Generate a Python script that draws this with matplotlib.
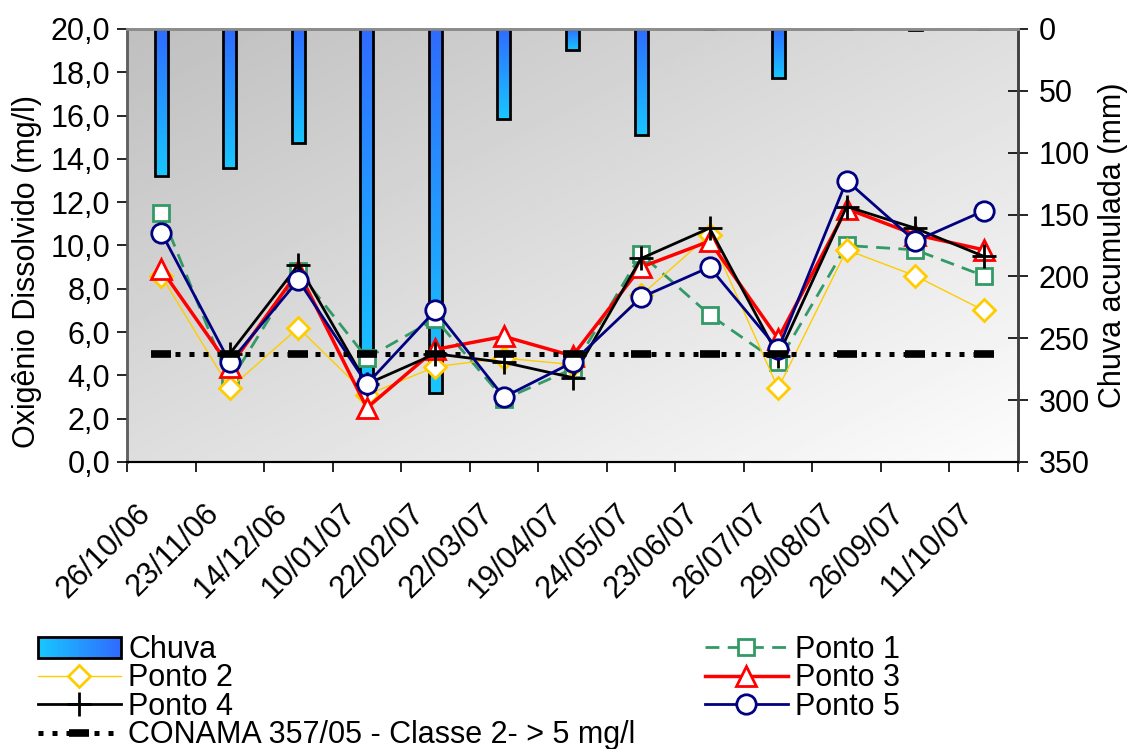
import numpy as np
import matplotlib
matplotlib.use('Agg')
import matplotlib.pyplot as plt
from matplotlib.colors import LinearSegmentedColormap
from matplotlib.lines import Line2D
from matplotlib.patches import Patch, Rectangle
from matplotlib.legend_handler import HandlerBase
from matplotlib.ticker import FuncFormatter, FixedLocator
from matplotlib.transforms import ScaledTranslation

plt.rcParams['font.family'] = ['Liberation Sans', 'DejaVu Sans']

datas = ['26/10/06', '23/11/06', '14/12/06', '10/01/07', '22/02/07', '22/03/07', '19/04/07',
         '24/05/07', '23/06/07', '26/07/07', '29/08/07', '26/09/07', '11/10/07']
chuva = [119, 112, 92, 285, 294, 73, 17, 86, 0, 40, 0, 1, 0]
ponto1 = [11.5, 3.7, 8.8, 4.8, 6.6, 2.9, 4.3, 9.6, 6.8, 4.6, 10.0, 9.8, 8.6]
ponto2 = [8.6, 3.4, 6.2, 3.1, 4.4, 4.8, 4.5, 7.7, 10.5, 3.4, 9.8, 8.6, 7.0]
ponto3 = [8.9, 4.4, 8.8, 2.5, 5.2, 5.8, 4.9, 9.0, 10.2, 5.7, 11.7, 10.5, 9.8]
ponto4 = [np.nan, 5.0, 9.1, 3.6, 5.0, 4.6, 3.9, 9.4, 10.8, 4.9, 11.8, 10.8, 9.5]
ponto5 = [10.6, 4.6, 8.4, 3.6, 7.0, 3.0, 4.6, 7.6, 9.0, 5.2, 13.0, 10.2, 11.6]
conama = [5.0] * len(datas)

FS = 22
x = np.arange(len(datas))
cm_bar = LinearSegmentedColormap.from_list('chuva', ['#2f6cff', '#18c6ff'])


class GradHandler(HandlerBase):
    # legend box for the rain bars, cyan -> blue from left to right
    def create_artists(self, legend, orig, xdescent, ydescent, width, height, fontsize, trans):
        arts = []
        n = 30
        for i in range(n):
            arts.append(Rectangle((-xdescent + width * i / n, -ydescent), width / n * 1.1, height,
                                  facecolor=cm_bar(1 - i / (n - 1)), edgecolor='none', transform=trans))
        arts.append(Rectangle((-xdescent, -ydescent), width, height, facecolor='none',
                              edgecolor='black', lw=2, transform=trans))
        return arts


fig = plt.figure(figsize=(11.31, 7.49), dpi=100)
ax = fig.add_axes([127 / 1131, 1 - 462 / 749, (1018 - 127) / 1131, (462 - 29) / 749])
ax2 = ax.twinx()
ax.set_zorder(2)
ax2.set_zorder(1)
ax.patch.set_visible(False)

# gray diagonal background
u = np.linspace(0, 1, 200)
uu, vv = np.meshgrid(u, u)
bg = 0.75 + 0.24 * (uu + vv) / 2
ax2.imshow(bg, extent=[0, 1, 0, 1], transform=ax2.transAxes, cmap='gray', vmin=0, vmax=1,
           aspect='auto', origin='upper', zorder=0, interpolation='bilinear')

# rain bars with vertical gradient
grad = np.linspace(0, 1, 100).reshape(-1, 1)
bars = ax2.bar(x, chuva, width=0.19, facecolor='none', edgecolor='black', linewidth=2, zorder=3)
for b, h in zip(bars, chuva):
    if h <= 0:
        continue
    x0 = b.get_x()
    im = ax2.imshow(grad, extent=[x0, x0 + b.get_width(), h, 0], origin='upper', cmap=cm_bar,
                    aspect='auto', zorder=2, interpolation='bilinear')
    im.set_clip_path(b)

ax2.set_ylim(350, 0)
ax2.set_yticks(np.arange(0, 351, 50))
ax2.set_ylabel('Chuva acumulada (mm)', fontsize=FS, labelpad=6)
ax2.tick_params(axis='y', labelsize=FS, direction='inout', length=14, width=1.2, pad=8)

# oxygen lines
ax.plot(x, ponto1, color='#339966', lw=2, ls=(0, (5, 3)), marker='s', ms=12, mfc='white',
        mec='#339966', mew=2, zorder=3)
ax.plot(x, ponto2, color='#ffcc00', lw=1, marker='D', ms=11, mfc='white',
        mec='#ffcc00', mew=2, zorder=3)
ax.plot(x, ponto3, color='red', lw=2.5, marker='^', ms=14, mfc='white',
        mec='red', mew=2, zorder=4)
ax.plot(x, ponto4, color='black', lw=2, marker='+', ms=17, mew=2, zorder=5)
ax.plot(x, ponto5, color='#000080', lw=2, marker='o', ms=14, mfc='white',
        mec='#000080', mew=2, zorder=6)
ax.plot(x, conama, color='black', lw=3.6, ls=(0, (1, 1.8)), marker='_', ms=15, mew=5.5, zorder=7)

ax.set_xlim(-0.5, len(datas) - 0.5)
ax.set_ylim(0, 20)
ax.set_yticks(np.arange(0, 20.1, 2))
ax.yaxis.set_major_formatter(FuncFormatter(lambda v, p: f'{v:.1f}'.replace('.', ',')))
ax.set_ylabel('Oxigênio Dissolvido (mg/l)', fontsize=FS)
ax.yaxis.set_label_coords(-0.095, 0.44)
ax.tick_params(axis='y', labelsize=FS, direction='out', length=7, width=1.2, pad=5)

ax.xaxis.set_major_locator(FixedLocator(np.arange(-0.5, len(datas), 1)))
ax.xaxis.set_minor_locator(FixedLocator(x))
ax.set_xticklabels([], minor=False)
ax.set_xticklabels(datas, minor=True, rotation=45, ha='right', rotation_mode='anchor', fontsize=FS)
ax.tick_params(axis='x', which='major', direction='out', length=7, width=1.2)
ax.tick_params(axis='x', which='minor', length=0, pad=24)
shift = ScaledTranslation(-0.26, -0.03, fig.dpi_scale_trans)
for lab in ax.get_xticklabels(minor=True):
    lab.set_transform(lab.get_transform() + shift)

for a in (ax, ax2):
    a.spines['top'].set_color('#8c8c8c')
    a.spines['top'].set_linewidth(2)
    a.spines['left'].set_color('#606060')
    a.spines['left'].set_linewidth(1.8)
    a.spines['right'].set_color('#404040')
    a.spines['right'].set_linewidth(1.8)
    a.spines['bottom'].set_color('black')
    a.spines['bottom'].set_linewidth(1.5)

# legends
h_chuva = Patch(facecolor='#1e9bff', edgecolor='black', linewidth=2)
h1 = Line2D([], [], color='#339966', lw=2, ls=(0, (5, 3)), marker='s', ms=12, mfc='white',
            mec='#339966', mew=2)
h2 = Line2D([], [], color='#ffcc00', lw=1, marker='D', ms=11, mfc='white', mec='#ffcc00', mew=2)
h3 = Line2D([], [], color='red', lw=2.5, marker='^', ms=14, mfc='white', mec='red', mew=2)
h4 = Line2D([], [], color='black', lw=2, marker='+', ms=17, mew=2)
h5 = Line2D([], [], color='#000080', lw=2, marker='o', ms=14, mfc='white', mec='#000080', mew=2)
hc = Line2D([], [], color='black', lw=3.6, ls=(0, (1, 1.8)), marker='_', ms=15, mew=5.5)

leg_kw = dict(frameon=False, fontsize=FS, borderpad=0, borderaxespad=0, handlelength=2.7,
              handletextpad=0.25, labelspacing=-0.05, loc='upper left')
fig.legend([h_chuva, h2, h4, hc],
           ['Chuva', 'Ponto 2', 'Ponto 4', 'CONAMA 357/05 - Classe 2- > 5 mg/l'],
           handler_map={Patch: GradHandler()},
           bbox_to_anchor=(38 / 1131, 1 - 635 / 749), **leg_kw)
fig.legend([h1, h3, h5], ['Ponto 1', 'Ponto 3', 'Ponto 5'],
           bbox_to_anchor=(705 / 1131, 1 - 635 / 749), **leg_kw)

fig.savefig('out.png', dpi=100)
